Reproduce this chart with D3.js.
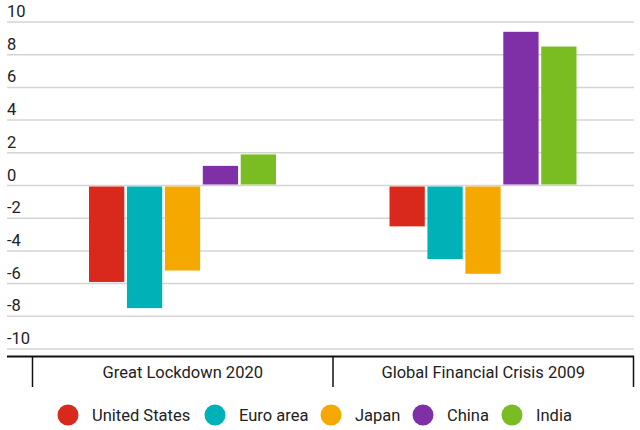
<!DOCTYPE html>
<html>
<head>
<meta charset="utf-8">
<script src="https://cdn.jsdelivr.net/npm/d3@7"></script>
<style>
body { margin: 0; background: #fff; }
text { font-family: Roboto, "Open Sans", sans-serif; fill: #222; }
</style>
</head>
<body>
<div id="chart"></div>
<script>
var periods = ['Great Lockdown 2020', 'Global Financial Crisis 2009'];
var countries = ['United States', 'Euro area', 'Japan', 'China', 'India'];
var colors = ['#d9291c', '#00b1b7', '#f5a800', '#7f30a7', '#7abd23'];
var lockdown = [-5.9, -7.5, -5.2, 1.2, 1.9];
var crisis = [-2.5, -4.5, -5.4, 9.4, 8.5];
var yTicks = [10, 8, 6, 4, 2, 0, -2, -4, -6, -8, -10];

var width = 640, height = 430;
var svg = d3.select('#chart').append('svg')
	.attr('width', width)
	.attr('height', height);

var seriesByPeriod = [lockdown, crisis];

// scales
var y = d3.scaleLinear().domain([-10, 10]).range([349, 22]);
var x0 = d3.scaleBand().domain(periods).range([32.5, 633.5]);
var x1 = d3.scaleBand().domain(countries)
	.range([56.5, 243.5])
	.paddingInner(0.07);

// gridlines + labels
var grid = svg.append('g');
grid.selectAll('line').data(yTicks).enter().append('line')
	.attr('x1', 7).attr('x2', 634)
	.attr('y1', function(d){ return y(d); })
	.attr('y2', function(d){ return y(d); })
	.attr('stroke', '#d4d4d4')
	.attr('stroke-width', 1.5);
grid.selectAll('text').data(yTicks).enter().append('text')
	.attr('x', 7)
	.attr('y', function(d){ return y(d) - 5; })
	.style('font-size', '16.5px')
	.text(function(d){ return d; });

// bars
periods.forEach(function(p, i){
	var g = svg.append('g').attr('transform', 'translate(' + x0(p) + ',0)');
	g.selectAll('rect').data(seriesByPeriod[i]).enter().append('rect')
		.attr('x', function(d, j){ return x1(countries[j]); })
		.attr('width', x1.bandwidth())
		.attr('y', function(d){ return d >= 0 ? y(d) : y(0) + 1; })
		.attr('height', function(d){ return Math.abs(y(d) - y(0)) - 1; })
		.attr('fill', function(d, j){ return colors[j]; });
});

// category axis
var xAxis = svg.append('g');
xAxis.append('line')
	.attr('x1', 7).attr('x2', 634)
	.attr('y1', 356.5).attr('y2', 356.5)
	.attr('stroke', '#111').attr('stroke-width', 2.2);
var tickXs = periods.map(function(p){ return x0(p); }).concat([x0.range()[1]]);
xAxis.selectAll('.tick').data(tickXs).enter().append('line')
	.attr('x1', function(d){ return d; })
	.attr('x2', function(d){ return d; })
	.attr('y1', 356).attr('y2', 387)
	.attr('stroke', '#111').attr('stroke-width', 1.5);
xAxis.selectAll('text').data(periods).enter().append('text')
	.attr('x', function(d){ return x0(d) + x0.bandwidth() / 2; })
	.attr('y', 378)
	.attr('text-anchor', 'middle')
	.style('font-size', '16.5px')
	.text(function(d){ return d; });

// legend
var legendX = [68, 215, 331, 423, 512];
var legend = svg.append('g');
var item = legend.selectAll('g').data(countries).enter().append('g')
	.attr('transform', function(d, i){ return 'translate(' + legendX[i] + ',415)'; });
item.append('circle').attr('r', 10.5)
	.attr('fill', function(d, i){ return colors[i]; });
item.append('text')
	.attr('x', 24).attr('y', 6)
	.style('font-size', '16.5px')
	.text(function(d){ return d; });
</script>
</body>
</html>
